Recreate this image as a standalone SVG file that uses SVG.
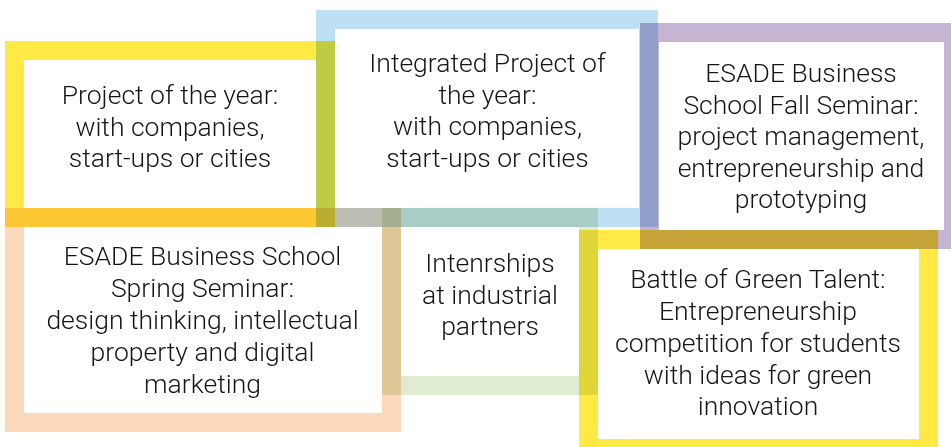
<svg xmlns="http://www.w3.org/2000/svg" width="951" height="447" viewBox="0 0 951 447">
<style>
.frame{fill:none;stroke-width:19;mix-blend-mode:multiply}
.t{font-family:Roboto,"Open Sans",sans-serif;font-size:26.5px;font-weight:300;fill:#151515;text-anchor:middle}
</style>
<rect x="0" y="0" width="951" height="447" fill="#ffffff"/>
<g id="project-of-year">
<rect class="frame" x="14.5" y="50.5" width="311" height="167" stroke="#FFE945"/>
<text class="t" x="170" y="104">Project of the year:</text>
<text class="t" x="170" y="136">with companies,</text>
<text class="t" x="170" y="167">start-ups or cities</text>
</g>
<g id="integrated-project">
<rect class="frame" x="325.5" y="19.5" width="323" height="198" stroke="#BDE0F3"/>
<text class="t" x="487.5" y="72">Integrated Project of</text>
<text class="t" x="487.5" y="103.5">the year:</text>
<text class="t" x="487.5" y="135">with companies,</text>
<text class="t" x="487.5" y="166.5">start-ups or cities</text>
</g>
<g id="fall-seminar">
<rect class="frame" x="649.5" y="32.5" width="304" height="207" stroke="#C5B4D3"/>
<text class="t" x="801" y="82">ESADE Business</text>
<text class="t" x="801" y="113.5">School Fall Seminar:</text>
<text class="t" x="801" y="145">project management,</text>
<text class="t" x="801" y="176.5">entrepreneurship and</text>
<text class="t" x="801" y="208">prototyping</text>
</g>
<g id="spring-seminar">
<rect class="frame" x="14.5" y="217.5" width="377" height="205" stroke="#FDD9BB"/>
<text class="t" x="202.5" y="265">ESADE Business School</text>
<text class="t" x="202.5" y="297">Spring Seminar:</text>
<text class="t" x="202.5" y="329">design thinking, intellectual</text>
<text class="t" x="202.5" y="361">property and digital</text>
<text class="t" x="202.5" y="393">marketing</text>
</g>
<g id="internships">
<rect class="frame" x="391.5" y="217.5" width="197" height="168" stroke="#E1EBCF"/>
<text class="t" x="490" y="272">Intenrships</text>
<text class="t" x="490" y="303.5">at industrial</text>
<text class="t" x="490" y="335">partners</text>
</g>
<g id="battle-green-talent">
<rect class="frame" x="588.5" y="239.5" width="340" height="209" stroke="#FFE945"/>
<text class="t" x="758" y="288">Battle of Green Talent:</text>
<text class="t" x="758" y="320">Entrepreneurship</text>
<text class="t" x="758" y="352">competition for students</text>
<text class="t" x="758" y="384">with ideas for green</text>
<text class="t" x="758" y="415">innovation</text>
</g>
<g id="connectors"></g>
</svg>
